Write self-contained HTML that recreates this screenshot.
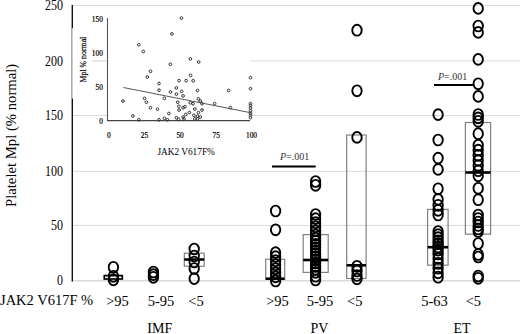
<!DOCTYPE html>
<html><head><meta charset="utf-8"><style>
html,body{margin:0;padding:0;background:#fff;}
svg{display:block;}
.t{font-family:"Liberation Serif",serif;fill:#000;}
.ti{stroke:#000;stroke-width:0.2px;}
</style></head><body>
<svg width="520" height="334" viewBox="0 0 520 334">
<rect width="520" height="334" fill="#fff"/>
<line x1="72" y1="225.4" x2="520" y2="225.4" stroke="#d9d9d9" stroke-width="1"/>
<line x1="72" y1="171.3" x2="520" y2="171.3" stroke="#d9d9d9" stroke-width="1"/>
<line x1="72" y1="115.5" x2="520" y2="115.5" stroke="#d9d9d9" stroke-width="1"/>
<line x1="72" y1="60.9" x2="520" y2="60.9" stroke="#d9d9d9" stroke-width="1"/>
<line x1="72" y1="5.4" x2="520" y2="5.4" stroke="#d9d9d9" stroke-width="1"/>
<line x1="72" y1="280.8" x2="520" y2="280.8" stroke="#d9d9d9" stroke-width="1.6"/>
<rect x="107" y="8" width="143.5" height="112" fill="#fff"/>
<rect x="73" y="56" width="19" height="8" fill="#fff"/>
<line x1="72.3" y1="5" x2="72.3" y2="28.3" stroke="#111" stroke-width="1.4"/>
<line x1="71.8" y1="28.3" x2="71.8" y2="98.5" stroke="#9a9a9a" stroke-width="1.3"/>
<line x1="72.3" y1="98.5" x2="72.3" y2="281.5" stroke="#111" stroke-width="1.4"/>
<text x="63" y="285.4" class="t" text-anchor="end" font-size="14.2" textLength="6.0" lengthAdjust="spacingAndGlyphs">0</text>
<text x="63" y="230.0" class="t" text-anchor="end" font-size="14.2" textLength="12.0" lengthAdjust="spacingAndGlyphs">50</text>
<text x="63" y="175.9" class="t" text-anchor="end" font-size="14.2" textLength="18.0" lengthAdjust="spacingAndGlyphs">100</text>
<text x="63" y="120.1" class="t" text-anchor="end" font-size="14.2" textLength="18.0" lengthAdjust="spacingAndGlyphs">150</text>
<text x="63" y="65.5" class="t" text-anchor="end" font-size="14.2" textLength="18.0" lengthAdjust="spacingAndGlyphs">200</text>
<text x="63" y="10.0" class="t" text-anchor="end" font-size="14.2" textLength="18.0" lengthAdjust="spacingAndGlyphs">250</text>
<text transform="translate(16.2,135.4) rotate(-90)" text-anchor="middle" font-size="14.7" class="t">Platelet Mpl (% normal)</text>
<text x="0" y="304.7" font-size="14.5" class="t">JAK2 V617F %</text>
<text x="117.5" y="305.8" font-size="14.5" text-anchor="middle" class="t">&gt;95</text>
<text x="161" y="305.8" font-size="14.5" text-anchor="middle" class="t">5-95</text>
<text x="196" y="305.8" font-size="14.5" text-anchor="middle" class="t">&lt;5</text>
<text x="277.5" y="305.8" font-size="14.5" text-anchor="middle" class="t">&gt;95</text>
<text x="320" y="305.8" font-size="14.5" text-anchor="middle" class="t">5-95</text>
<text x="354.8" y="305.8" font-size="14.5" text-anchor="middle" class="t">&lt;5</text>
<text x="434.5" y="305.8" font-size="14.5" text-anchor="middle" class="t">5-63</text>
<text x="473.4" y="305.8" font-size="14.5" text-anchor="middle" class="t">&lt;5</text>
<text x="159.8" y="333.3" font-size="14" text-anchor="middle" class="t">IMF</text>
<text x="319.5" y="333.3" font-size="14" text-anchor="middle" class="t">PV</text>
<text x="462" y="333.3" font-size="14" text-anchor="middle" class="t">ET</text>
<rect x="184.3" y="253.2" width="19.9" height="13.0" fill="none" stroke="#808080" stroke-width="1.2"/>
<rect x="265.7" y="259.2" width="19.0" height="20.1" fill="none" stroke="#808080" stroke-width="1.2"/>
<rect x="303.2" y="234.6" width="25.0" height="37.8" fill="none" stroke="#808080" stroke-width="1.2"/>
<rect x="346.7" y="135.0" width="19.4" height="143.5" fill="none" stroke="#808080" stroke-width="1.2"/>
<rect x="427.6" y="209.4" width="20.5" height="55.8" fill="none" stroke="#808080" stroke-width="1.2"/>
<rect x="465.4" y="122.5" width="25.2" height="111.7" fill="none" stroke="#808080" stroke-width="1.2"/>
<ellipse cx="113.4" cy="267.3" rx="4.7" ry="5.4" fill="none" stroke="#000" stroke-width="1.9"/>
<ellipse cx="113.4" cy="276.3" rx="4.7" ry="5.4" fill="none" stroke="#000" stroke-width="1.9"/>
<ellipse cx="113.4" cy="279.8" rx="4.7" ry="5.4" fill="none" stroke="#000" stroke-width="1.9"/>
<ellipse cx="153.4" cy="272" rx="4.7" ry="5.4" fill="none" stroke="#000" stroke-width="1.9"/>
<ellipse cx="153.4" cy="274.6" rx="4.7" ry="5.4" fill="none" stroke="#000" stroke-width="1.9"/>
<ellipse cx="153.4" cy="277.3" rx="4.7" ry="5.4" fill="none" stroke="#000" stroke-width="1.9"/>
<ellipse cx="194.2" cy="249" rx="4.7" ry="5.4" fill="none" stroke="#000" stroke-width="1.9"/>
<ellipse cx="194.2" cy="256" rx="4.7" ry="5.4" fill="none" stroke="#000" stroke-width="1.9"/>
<ellipse cx="194.2" cy="262" rx="4.7" ry="5.4" fill="none" stroke="#000" stroke-width="1.9"/>
<ellipse cx="194.2" cy="268.5" rx="4.7" ry="5.4" fill="none" stroke="#000" stroke-width="1.9"/>
<ellipse cx="194.2" cy="278.6" rx="4.7" ry="5.4" fill="none" stroke="#000" stroke-width="1.9"/>
<ellipse cx="275.6" cy="211" rx="4.7" ry="5.4" fill="none" stroke="#000" stroke-width="1.9"/>
<ellipse cx="275.6" cy="229.8" rx="4.7" ry="5.4" fill="none" stroke="#000" stroke-width="1.9"/>
<ellipse cx="275.6" cy="252.6" rx="4.7" ry="5.4" fill="none" stroke="#000" stroke-width="1.9"/>
<ellipse cx="275.6" cy="256.65" rx="4.7" ry="5.4" fill="none" stroke="#000" stroke-width="1.9"/>
<ellipse cx="275.6" cy="260.7" rx="4.7" ry="5.4" fill="none" stroke="#000" stroke-width="1.9"/>
<ellipse cx="275.6" cy="264.75" rx="4.7" ry="5.4" fill="none" stroke="#000" stroke-width="1.9"/>
<ellipse cx="275.6" cy="268.8" rx="4.7" ry="5.4" fill="none" stroke="#000" stroke-width="1.9"/>
<ellipse cx="275.6" cy="272.85" rx="4.7" ry="5.4" fill="none" stroke="#000" stroke-width="1.9"/>
<ellipse cx="275.6" cy="276.90000000000003" rx="4.7" ry="5.4" fill="none" stroke="#000" stroke-width="1.9"/>
<ellipse cx="275.6" cy="280.95000000000005" rx="4.7" ry="5.4" fill="none" stroke="#000" stroke-width="1.9"/>
<ellipse cx="315.6" cy="181.5" rx="4.7" ry="5.4" fill="none" stroke="#000" stroke-width="1.9"/>
<ellipse cx="315.6" cy="185.3" rx="4.7" ry="5.4" fill="none" stroke="#000" stroke-width="1.9"/>
<ellipse cx="315.6" cy="214.5" rx="4.7" ry="5.4" fill="none" stroke="#000" stroke-width="1.9"/>
<ellipse cx="315.6" cy="218.6" rx="4.7" ry="5.4" fill="none" stroke="#000" stroke-width="1.9"/>
<ellipse cx="315.6" cy="222.7" rx="4.7" ry="5.4" fill="none" stroke="#000" stroke-width="1.9"/>
<ellipse cx="315.6" cy="226.79999999999998" rx="4.7" ry="5.4" fill="none" stroke="#000" stroke-width="1.9"/>
<ellipse cx="315.6" cy="230.89999999999998" rx="4.7" ry="5.4" fill="none" stroke="#000" stroke-width="1.9"/>
<ellipse cx="315.6" cy="234.99999999999997" rx="4.7" ry="5.4" fill="none" stroke="#000" stroke-width="1.9"/>
<ellipse cx="315.6" cy="238.2" rx="4.7" ry="5.4" fill="none" stroke="#000" stroke-width="1.9"/>
<ellipse cx="315.6" cy="241.29999999999998" rx="4.7" ry="5.4" fill="none" stroke="#000" stroke-width="1.9"/>
<ellipse cx="315.6" cy="244.39999999999998" rx="4.7" ry="5.4" fill="none" stroke="#000" stroke-width="1.9"/>
<ellipse cx="315.6" cy="247.49999999999997" rx="4.7" ry="5.4" fill="none" stroke="#000" stroke-width="1.9"/>
<ellipse cx="315.6" cy="250.59999999999997" rx="4.7" ry="5.4" fill="none" stroke="#000" stroke-width="1.9"/>
<ellipse cx="315.6" cy="253.69999999999996" rx="4.7" ry="5.4" fill="none" stroke="#000" stroke-width="1.9"/>
<ellipse cx="315.6" cy="256.79999999999995" rx="4.7" ry="5.4" fill="none" stroke="#000" stroke-width="1.9"/>
<ellipse cx="315.6" cy="259.9" rx="4.7" ry="5.4" fill="none" stroke="#000" stroke-width="1.9"/>
<ellipse cx="315.6" cy="263.0" rx="4.7" ry="5.4" fill="none" stroke="#000" stroke-width="1.9"/>
<ellipse cx="315.6" cy="266.1" rx="4.7" ry="5.4" fill="none" stroke="#000" stroke-width="1.9"/>
<ellipse cx="315.6" cy="269.20000000000005" rx="4.7" ry="5.4" fill="none" stroke="#000" stroke-width="1.9"/>
<ellipse cx="315.6" cy="272.30000000000007" rx="4.7" ry="5.4" fill="none" stroke="#000" stroke-width="1.9"/>
<ellipse cx="315.6" cy="276.2" rx="4.7" ry="5.4" fill="none" stroke="#000" stroke-width="1.9"/>
<ellipse cx="315.6" cy="280" rx="4.7" ry="5.4" fill="none" stroke="#000" stroke-width="1.9"/>
<ellipse cx="357" cy="30.2" rx="4.7" ry="5.4" fill="none" stroke="#000" stroke-width="1.9"/>
<ellipse cx="357" cy="90.8" rx="4.7" ry="5.4" fill="none" stroke="#000" stroke-width="1.9"/>
<ellipse cx="357" cy="137.4" rx="4.7" ry="5.4" fill="none" stroke="#000" stroke-width="1.9"/>
<ellipse cx="357" cy="266.3" rx="4.7" ry="5.4" fill="none" stroke="#000" stroke-width="1.9"/>
<ellipse cx="357" cy="271" rx="4.7" ry="5.4" fill="none" stroke="#000" stroke-width="1.9"/>
<ellipse cx="357" cy="275.5" rx="4.7" ry="5.4" fill="none" stroke="#000" stroke-width="1.9"/>
<ellipse cx="357" cy="278.9" rx="4.7" ry="5.4" fill="none" stroke="#000" stroke-width="1.9"/>
<ellipse cx="438.1" cy="114.6" rx="4.7" ry="5.4" fill="none" stroke="#000" stroke-width="1.9"/>
<ellipse cx="438.1" cy="140" rx="4.7" ry="5.4" fill="none" stroke="#000" stroke-width="1.9"/>
<ellipse cx="438.1" cy="158.1" rx="4.7" ry="5.4" fill="none" stroke="#000" stroke-width="1.9"/>
<ellipse cx="438.1" cy="169.4" rx="4.7" ry="5.4" fill="none" stroke="#000" stroke-width="1.9"/>
<ellipse cx="438.1" cy="188.8" rx="4.7" ry="5.4" fill="none" stroke="#000" stroke-width="1.9"/>
<ellipse cx="438.1" cy="199.4" rx="4.7" ry="5.4" fill="none" stroke="#000" stroke-width="1.9"/>
<ellipse cx="438.1" cy="205.3" rx="4.7" ry="5.4" fill="none" stroke="#000" stroke-width="1.9"/>
<ellipse cx="438.1" cy="210.3" rx="4.7" ry="5.4" fill="none" stroke="#000" stroke-width="1.9"/>
<ellipse cx="438.1" cy="215" rx="4.7" ry="5.4" fill="none" stroke="#000" stroke-width="1.9"/>
<ellipse cx="438.1" cy="231.5" rx="4.7" ry="5.4" fill="none" stroke="#000" stroke-width="1.9"/>
<ellipse cx="438.1" cy="234.6" rx="4.7" ry="5.4" fill="none" stroke="#000" stroke-width="1.9"/>
<ellipse cx="438.1" cy="237.7" rx="4.7" ry="5.4" fill="none" stroke="#000" stroke-width="1.9"/>
<ellipse cx="438.1" cy="240.79999999999998" rx="4.7" ry="5.4" fill="none" stroke="#000" stroke-width="1.9"/>
<ellipse cx="438.1" cy="243.89999999999998" rx="4.7" ry="5.4" fill="none" stroke="#000" stroke-width="1.9"/>
<ellipse cx="438.1" cy="246.99999999999997" rx="4.7" ry="5.4" fill="none" stroke="#000" stroke-width="1.9"/>
<ellipse cx="438.1" cy="250.09999999999997" rx="4.7" ry="5.4" fill="none" stroke="#000" stroke-width="1.9"/>
<ellipse cx="438.1" cy="254" rx="4.7" ry="5.4" fill="none" stroke="#000" stroke-width="1.9"/>
<ellipse cx="438.1" cy="258.5" rx="4.7" ry="5.4" fill="none" stroke="#000" stroke-width="1.9"/>
<ellipse cx="438.1" cy="263.3" rx="4.7" ry="5.4" fill="none" stroke="#000" stroke-width="1.9"/>
<ellipse cx="438.1" cy="268.2" rx="4.7" ry="5.4" fill="none" stroke="#000" stroke-width="1.9"/>
<ellipse cx="438.1" cy="272.8" rx="4.7" ry="5.4" fill="none" stroke="#000" stroke-width="1.9"/>
<ellipse cx="438.1" cy="277.2" rx="4.7" ry="5.4" fill="none" stroke="#000" stroke-width="1.9"/>
<ellipse cx="478.2" cy="8.4" rx="4.7" ry="5.4" fill="none" stroke="#000" stroke-width="1.9"/>
<ellipse cx="478.2" cy="26.0" rx="4.7" ry="5.4" fill="none" stroke="#000" stroke-width="1.9"/>
<ellipse cx="478.2" cy="32.4" rx="4.7" ry="5.4" fill="none" stroke="#000" stroke-width="1.9"/>
<ellipse cx="478.2" cy="59.4" rx="4.7" ry="5.4" fill="none" stroke="#000" stroke-width="1.9"/>
<ellipse cx="478.2" cy="83.8" rx="4.7" ry="5.4" fill="none" stroke="#000" stroke-width="1.9"/>
<ellipse cx="478.2" cy="96.4" rx="4.7" ry="5.4" fill="none" stroke="#000" stroke-width="1.9"/>
<ellipse cx="478.2" cy="114.5" rx="4.7" ry="5.4" fill="none" stroke="#000" stroke-width="1.9"/>
<ellipse cx="478.2" cy="117.9" rx="4.7" ry="5.4" fill="none" stroke="#000" stroke-width="1.9"/>
<ellipse cx="478.2" cy="121.30000000000001" rx="4.7" ry="5.4" fill="none" stroke="#000" stroke-width="1.9"/>
<ellipse cx="478.2" cy="133.7" rx="4.7" ry="5.4" fill="none" stroke="#000" stroke-width="1.9"/>
<ellipse cx="478.2" cy="145.3" rx="4.7" ry="5.4" fill="none" stroke="#000" stroke-width="1.9"/>
<ellipse cx="478.2" cy="150.2" rx="4.7" ry="5.4" fill="none" stroke="#000" stroke-width="1.9"/>
<ellipse cx="478.2" cy="155.3" rx="4.7" ry="5.4" fill="none" stroke="#000" stroke-width="1.9"/>
<ellipse cx="478.2" cy="160.4" rx="4.7" ry="5.4" fill="none" stroke="#000" stroke-width="1.9"/>
<ellipse cx="478.2" cy="165.5" rx="4.7" ry="5.4" fill="none" stroke="#000" stroke-width="1.9"/>
<ellipse cx="478.2" cy="170.7" rx="4.7" ry="5.4" fill="none" stroke="#000" stroke-width="1.9"/>
<ellipse cx="478.2" cy="175.8" rx="4.7" ry="5.4" fill="none" stroke="#000" stroke-width="1.9"/>
<ellipse cx="478.2" cy="188.3" rx="4.7" ry="5.4" fill="none" stroke="#000" stroke-width="1.9"/>
<ellipse cx="478.2" cy="199.7" rx="4.7" ry="5.4" fill="none" stroke="#000" stroke-width="1.9"/>
<ellipse cx="478.2" cy="215" rx="4.7" ry="5.4" fill="none" stroke="#000" stroke-width="1.9"/>
<ellipse cx="478.2" cy="218.5" rx="4.7" ry="5.4" fill="none" stroke="#000" stroke-width="1.9"/>
<ellipse cx="478.2" cy="222" rx="4.7" ry="5.4" fill="none" stroke="#000" stroke-width="1.9"/>
<ellipse cx="478.2" cy="225.5" rx="4.7" ry="5.4" fill="none" stroke="#000" stroke-width="1.9"/>
<ellipse cx="478.2" cy="229" rx="4.7" ry="5.4" fill="none" stroke="#000" stroke-width="1.9"/>
<ellipse cx="478.2" cy="231.5" rx="4.7" ry="5.4" fill="none" stroke="#000" stroke-width="1.9"/>
<ellipse cx="478.2" cy="243.5" rx="4.7" ry="5.4" fill="none" stroke="#000" stroke-width="1.9"/>
<ellipse cx="478.2" cy="254.5" rx="4.7" ry="5.4" fill="none" stroke="#000" stroke-width="1.9"/>
<ellipse cx="478.2" cy="257" rx="4.7" ry="5.4" fill="none" stroke="#000" stroke-width="1.9"/>
<ellipse cx="478.2" cy="276" rx="4.7" ry="5.4" fill="none" stroke="#000" stroke-width="1.9"/>
<ellipse cx="478.2" cy="278.3" rx="4.7" ry="5.4" fill="none" stroke="#000" stroke-width="1.9"/>
<line x1="184.3" y1="259.5" x2="204.2" y2="259.5" stroke="#000" stroke-width="2.6"/>
<line x1="265.7" y1="278.7" x2="284.7" y2="278.7" stroke="#000" stroke-width="2.6"/>
<line x1="303.2" y1="260.0" x2="328.2" y2="260.0" stroke="#000" stroke-width="2.6"/>
<line x1="346.7" y1="265.3" x2="366.1" y2="265.3" stroke="#000" stroke-width="2.6"/>
<line x1="427.6" y1="247.2" x2="448.1" y2="247.2" stroke="#000" stroke-width="2.6"/>
<line x1="465.4" y1="172.5" x2="490.6" y2="172.5" stroke="#000" stroke-width="2.6"/>
<rect x="104.3" y="275.6" width="18" height="3.4" fill="none" stroke="#000" stroke-width="1.7"/>
<text x="280" y="160" font-size="11" textLength="29.2" lengthAdjust="spacingAndGlyphs" class="t" fill="#333" style="fill:#333"><tspan font-style="italic">P</tspan>=.001</text>
<line x1="272" y1="166.6" x2="315.7" y2="166.6" stroke="#000" stroke-width="2"/>
<text x="438" y="79.6" font-size="11" textLength="29.2" lengthAdjust="spacingAndGlyphs" class="t" style="fill:#333"><tspan font-style="italic">P</tspan>=.001</text>
<line x1="434" y1="85" x2="474.4" y2="85" stroke="#000" stroke-width="2"/>
<line x1="107.5" y1="18" x2="107.5" y2="121" stroke="#555" stroke-width="1.1"/>
<line x1="107" y1="120.6" x2="250" y2="120.6" stroke="#444" stroke-width="1.1"/>
<text x="102.9" y="22.0" font-size="7.4" text-anchor="end" class="t ti">150</text>
<text x="102.9" y="56.2" font-size="7.4" text-anchor="end" class="t ti">100</text>
<text x="102.9" y="89.89999999999999" font-size="7.4" text-anchor="end" class="t ti">50</text>
<text x="102.9" y="123.8" font-size="7.4" text-anchor="end" class="t ti">0</text>
<text x="108.9" y="137.6" font-size="7.4" text-anchor="middle" class="t ti">0</text>
<text x="144.5" y="137.6" font-size="7.4" text-anchor="middle" class="t ti">25</text>
<text x="180.1" y="137.6" font-size="7.4" text-anchor="middle" class="t ti">50</text>
<text x="216.2" y="137.6" font-size="7.4" text-anchor="middle" class="t ti">75</text>
<text x="251.5" y="137.6" font-size="7.4" text-anchor="middle" class="t ti">100</text>
<text x="157.4" y="154.5" font-size="9.3" class="t">JAK2 V617F%</text>
<text transform="translate(85.8,59.6) rotate(-90)" font-size="9.2" text-anchor="middle" textLength="45.8" lengthAdjust="spacingAndGlyphs" class="t ti">Mpl % normal</text>
<line x1="92" y1="61" x2="106" y2="61" stroke="#e3e3e3" stroke-width="1"/>
<circle cx="171.9" cy="33.9" r="1.35" fill="none" stroke="#333" stroke-width="1.0"/>
<circle cx="138.8" cy="44.7" r="1.35" fill="none" stroke="#333" stroke-width="1.0"/>
<circle cx="143.3" cy="51.5" r="1.35" fill="none" stroke="#333" stroke-width="1.0"/>
<circle cx="170.3" cy="64.3" r="1.35" fill="none" stroke="#333" stroke-width="1.0"/>
<circle cx="181.4" cy="18.1" r="1.35" fill="none" stroke="#333" stroke-width="1.0"/>
<circle cx="190.4" cy="58.9" r="1.35" fill="none" stroke="#333" stroke-width="1.0"/>
<circle cx="198.7" cy="62.0" r="1.35" fill="none" stroke="#333" stroke-width="1.0"/>
<circle cx="150.5" cy="71.3" r="1.35" fill="none" stroke="#333" stroke-width="1.0"/>
<circle cx="147.3" cy="77.0" r="1.35" fill="none" stroke="#333" stroke-width="1.0"/>
<circle cx="159.0" cy="83.5" r="1.35" fill="none" stroke="#333" stroke-width="1.0"/>
<circle cx="179.1" cy="80.6" r="1.35" fill="none" stroke="#333" stroke-width="1.0"/>
<circle cx="159.0" cy="90.2" r="1.35" fill="none" stroke="#333" stroke-width="1.0"/>
<circle cx="176.4" cy="88.0" r="1.35" fill="none" stroke="#333" stroke-width="1.0"/>
<circle cx="170.5" cy="92.0" r="1.35" fill="none" stroke="#333" stroke-width="1.0"/>
<circle cx="176.4" cy="94.1" r="1.35" fill="none" stroke="#333" stroke-width="1.0"/>
<circle cx="164.4" cy="98.3" r="1.35" fill="none" stroke="#333" stroke-width="1.0"/>
<circle cx="123.0" cy="101.0" r="1.35" fill="none" stroke="#333" stroke-width="1.0"/>
<circle cx="144.6" cy="98.4" r="1.35" fill="none" stroke="#333" stroke-width="1.0"/>
<circle cx="146.4" cy="102.2" r="1.35" fill="none" stroke="#333" stroke-width="1.0"/>
<circle cx="177.7" cy="102.2" r="1.35" fill="none" stroke="#333" stroke-width="1.0"/>
<circle cx="150.5" cy="107.8" r="1.35" fill="none" stroke="#333" stroke-width="1.0"/>
<circle cx="157.5" cy="109.2" r="1.35" fill="none" stroke="#333" stroke-width="1.0"/>
<circle cx="178.7" cy="106.3" r="1.35" fill="none" stroke="#333" stroke-width="1.0"/>
<circle cx="179.1" cy="110.0" r="1.35" fill="none" stroke="#333" stroke-width="1.0"/>
<circle cx="168.9" cy="113.5" r="1.35" fill="none" stroke="#333" stroke-width="1.0"/>
<circle cx="132.9" cy="115.9" r="1.35" fill="none" stroke="#333" stroke-width="1.0"/>
<circle cx="138.8" cy="119.8" r="1.35" fill="none" stroke="#333" stroke-width="1.0"/>
<circle cx="159.0" cy="119.8" r="1.35" fill="none" stroke="#333" stroke-width="1.0"/>
<circle cx="164.4" cy="118.4" r="1.35" fill="none" stroke="#333" stroke-width="1.0"/>
<circle cx="167.4" cy="119.8" r="1.35" fill="none" stroke="#333" stroke-width="1.0"/>
<circle cx="176.4" cy="117.7" r="1.35" fill="none" stroke="#333" stroke-width="1.0"/>
<circle cx="190.6" cy="75.4" r="1.35" fill="none" stroke="#333" stroke-width="1.0"/>
<circle cx="186.1" cy="80.6" r="1.35" fill="none" stroke="#333" stroke-width="1.0"/>
<circle cx="193.2" cy="80.8" r="1.35" fill="none" stroke="#333" stroke-width="1.0"/>
<circle cx="181.7" cy="91.4" r="1.35" fill="none" stroke="#333" stroke-width="1.0"/>
<circle cx="197.5" cy="90.5" r="1.35" fill="none" stroke="#333" stroke-width="1.0"/>
<circle cx="228.6" cy="90.5" r="1.35" fill="none" stroke="#333" stroke-width="1.0"/>
<circle cx="250.5" cy="77.6" r="1.35" fill="none" stroke="#333" stroke-width="1.0"/>
<circle cx="250.5" cy="88.7" r="1.35" fill="none" stroke="#333" stroke-width="1.0"/>
<circle cx="183.1" cy="95.9" r="1.35" fill="none" stroke="#333" stroke-width="1.0"/>
<circle cx="198.4" cy="98.8" r="1.35" fill="none" stroke="#333" stroke-width="1.0"/>
<circle cx="200.2" cy="101.0" r="1.35" fill="none" stroke="#333" stroke-width="1.0"/>
<circle cx="190.3" cy="102.8" r="1.35" fill="none" stroke="#333" stroke-width="1.0"/>
<circle cx="193.0" cy="103.7" r="1.35" fill="none" stroke="#333" stroke-width="1.0"/>
<circle cx="214.6" cy="103.7" r="1.35" fill="none" stroke="#333" stroke-width="1.0"/>
<circle cx="202.0" cy="103.7" r="1.35" fill="none" stroke="#333" stroke-width="1.0"/>
<circle cx="184.9" cy="106.7" r="1.35" fill="none" stroke="#333" stroke-width="1.0"/>
<circle cx="183.1" cy="107.8" r="1.35" fill="none" stroke="#333" stroke-width="1.0"/>
<circle cx="194.8" cy="109.0" r="1.35" fill="none" stroke="#333" stroke-width="1.0"/>
<circle cx="202.0" cy="110.0" r="1.35" fill="none" stroke="#333" stroke-width="1.0"/>
<circle cx="230.4" cy="107.6" r="1.35" fill="none" stroke="#333" stroke-width="1.0"/>
<circle cx="198.4" cy="112.6" r="1.35" fill="none" stroke="#333" stroke-width="1.0"/>
<circle cx="189.4" cy="112.6" r="1.35" fill="none" stroke="#333" stroke-width="1.0"/>
<circle cx="185.8" cy="114.4" r="1.35" fill="none" stroke="#333" stroke-width="1.0"/>
<circle cx="183.1" cy="117.1" r="1.35" fill="none" stroke="#333" stroke-width="1.0"/>
<circle cx="193.9" cy="115.3" r="1.35" fill="none" stroke="#333" stroke-width="1.0"/>
<circle cx="197.5" cy="116.2" r="1.35" fill="none" stroke="#333" stroke-width="1.0"/>
<circle cx="200.2" cy="117.1" r="1.35" fill="none" stroke="#333" stroke-width="1.0"/>
<circle cx="178.6" cy="119.3" r="1.35" fill="none" stroke="#333" stroke-width="1.0"/>
<circle cx="184.0" cy="118.9" r="1.35" fill="none" stroke="#333" stroke-width="1.0"/>
<circle cx="194.8" cy="118.9" r="1.35" fill="none" stroke="#333" stroke-width="1.0"/>
<circle cx="197.5" cy="118.9" r="1.35" fill="none" stroke="#333" stroke-width="1.0"/>
<circle cx="250.5" cy="103.7" r="1.35" fill="none" stroke="#333" stroke-width="1.0"/>
<circle cx="250.5" cy="105.4" r="1.35" fill="none" stroke="#333" stroke-width="1.0"/>
<circle cx="250.5" cy="108.1" r="1.35" fill="none" stroke="#333" stroke-width="1.0"/>
<circle cx="250.5" cy="110.8" r="1.35" fill="none" stroke="#333" stroke-width="1.0"/>
<circle cx="250.5" cy="113.2" r="1.35" fill="none" stroke="#333" stroke-width="1.0"/>
<circle cx="250.5" cy="115.3" r="1.35" fill="none" stroke="#333" stroke-width="1.0"/>
<circle cx="250.5" cy="117.7" r="1.35" fill="none" stroke="#333" stroke-width="1.0"/>
<line x1="123.4" y1="87.5" x2="250.5" y2="112.7" stroke="#444" stroke-width="0.9"/>
</svg>
</body></html>
